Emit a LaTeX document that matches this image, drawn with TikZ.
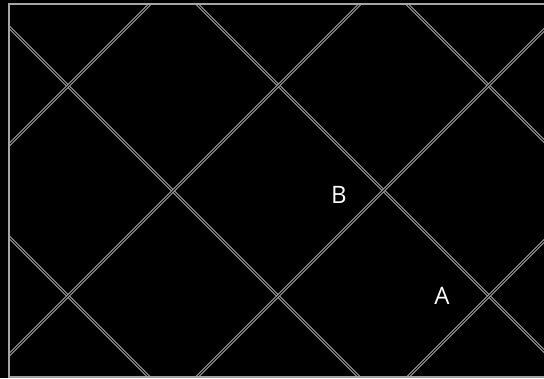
\documentclass[tikz,border=0pt]{standalone}
\usepackage{fontspec}
\setmainfont{Open Sans}
\definecolor{framegray}{RGB}{165,165,165}
\tikzset{
  gridline/.style={draw=framegray, line width=1pt, double=black, double distance=1pt},
  frameline/.style={draw=framegray, line width=2pt},
  lbl/.style={text=white, font=\fontsize{24}{26}\selectfont, inner sep=0pt}
}
\begin{document}
\begin{tikzpicture}[x=1pt,y=-1pt]
\fill[black] (0,0) rectangle (544,378);
\useasboundingbox (0,0) rectangle (544,378);
\begin{scope}
\clip (8.5,3.5) rectangle (560,376.5);
\foreach \c in {-403,-193,18,228} {
  \draw[gridline] (-100,-100+\c) -- (700,700+\c);
}
\foreach \d in {154,364,574,785} {
  \draw[gridline] (-100,\d+100) -- (800,\d-800);
}
\end{scope}
\draw[frameline] (560,3.5) -- (8.5,3.5) -- (8.5,376.5) -- (560,376.5);
\node[lbl] (B) at (339,194.5) {B};
\node[lbl] (A) at (442,295.5) {A};
\end{tikzpicture}
\end{document}
